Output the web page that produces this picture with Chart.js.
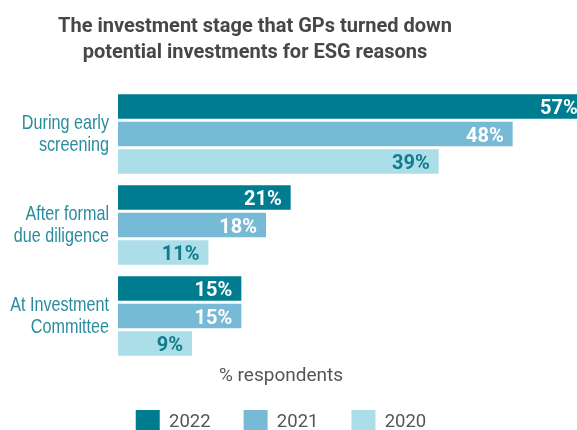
<!DOCTYPE html>
<html>
<head>
<meta charset="utf-8">
<script src="https://cdn.jsdelivr.net/npm/chart.js@4"></script>
<style>
  html, body { margin: 0; padding: 0; background: #fff; overflow: hidden; }
  #wrap { position: relative; width: 577px; height: 430px; overflow: hidden; }
  #chart { position: absolute; left: 0; top: 0; }
  #title {
    position: absolute; left: 0; top: 12px; width: 510px;
    text-align: center; font: 700 20px/26px Roboto, sans-serif; color: #474747;
  }
</style>
</head>
<body>
<div id="wrap">
  <canvas id="chart" width="600" height="444"></canvas>
  <div id="title">The investment stage that GPs turned down<br>potential investments for ESG reasons</div>
</div>
<script>
const stages = [["During early", "screening"], ["After formal", "due diligence"], ["At Investment", "Committee"]];
const years = ["2022", "2021", "2020"];
const share2022 = [57, 21, 15];
const share2021 = [48, 18, 15];
const share2020 = [39, 11, 9];

const barColors = ["#007c90", "#77bad6", "#acdee9"];
const labelColors = ["#ffffff", "#ffffff", "#0f7b8d"];

// percentage printed inside the end of each bar
const valueLabels = {
  id: "valueLabels",
  afterDatasetsDraw(chart) {
    const ctx = chart.ctx;
    ctx.save();
    ctx.font = "700 20px Roboto, sans-serif";
    ctx.textAlign = "right";
    ctx.textBaseline = "alphabetic";
    chart.data.datasets.forEach((ds, i) => {
      chart.getDatasetMeta(i).data.forEach((bar, j) => {
        ctx.fillStyle = labelColors[i];
        ctx.fillText(ds.data[j] + "%", bar.x - 9, bar.y + 7.5);
      });
    });
    ctx.restore();
  }
};

// stage names in a narrow face, squeezed horizontally
const stageLabels = {
  id: "stageLabels",
  afterDraw(chart) {
    const ctx = chart.ctx;
    const y = chart.scales.y;
    const right = chart.chartArea.left - 9;
    ctx.save();
    ctx.font = "400 21px 'Liberation Sans', Arial, sans-serif";
    ctx.fillStyle = "#2a8c9e";
    ctx.textAlign = "right";
    ctx.textBaseline = "alphabetic";
    stages.forEach((lines, i) => {
      const cy = y.getPixelForTick(i);
      lines.forEach((line, k) => {
        ctx.save();
        ctx.translate(right, cy - 5 + k * 22);
        ctx.scale(0.77, 1);
        ctx.fillText(line, 0, 0);
        ctx.restore();
      });
    });
    ctx.restore();
  }
};

const series = [share2022, share2021, share2020];

new Chart(document.getElementById("chart"), {
  type: "bar",
  data: {
    labels: stages,
    datasets: series.map((vals, i) => ({
      label: years[i],
      data: vals,
      backgroundColor: barColors[i],
      borderWidth: 0,
      clip: false,
      categoryPercentage: 0.907,
      barPercentage: 0.898,
    })),
  },
  options: {
    indexAxis: "y",
    responsive: false,
    animation: false,
    layout: { padding: { top: 88.5, right: 38, bottom: 0, left: 0 } },
    scales: {
      x: { display: false, min: 0, max: 54 },
      y: {
        grid: { display: false, drawTicks: false },
        border: { display: false },
        ticks: { display: false },
        afterFit(scale) { scale.width = 118; },
      },
    },
    plugins: {
      tooltip: { enabled: false },
      legend: {
        position: "bottom",
        title: {
          display: true,
          text: "% respondents",
          color: "#555",
          font: { family: "Roboto, sans-serif", size: 19, lineHeight: 1 },
          padding: { top: 5.5, bottom: -9 },
        },
        labels: {
          boxWidth: 24,
          boxHeight: 24,
          padding: 33,
          color: "#555",
          font: { family: "Roboto, sans-serif", size: 18.5 },
        },
      },
    },
  },
  plugins: [valueLabels, stageLabels],
});
</script>
</body>
</html>
